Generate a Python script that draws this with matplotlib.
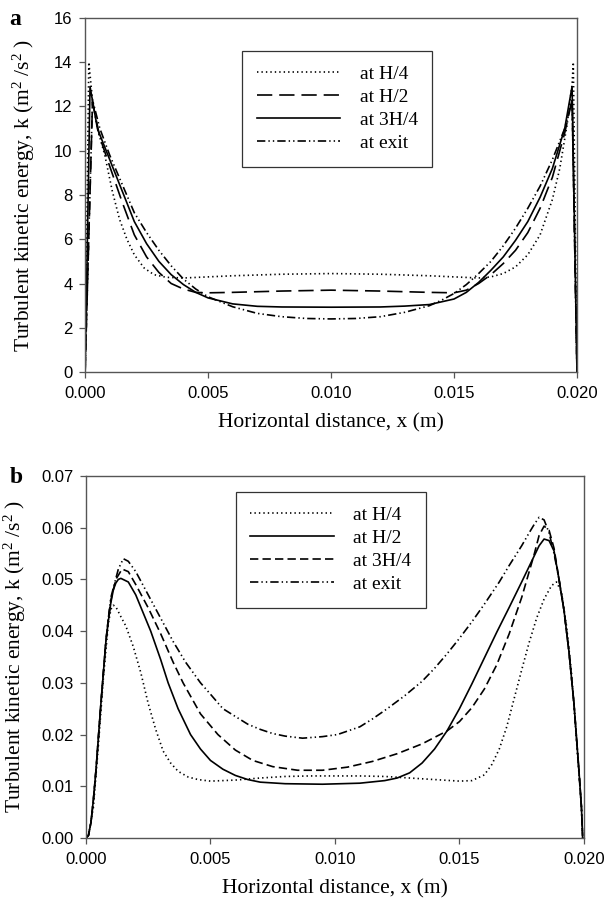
import matplotlib
matplotlib.use("Agg")
import matplotlib.pyplot as plt

plt.rcParams['lines.scale_dashes'] = False
plt.rcParams['mathtext.fontset'] = 'custom'
plt.rcParams['mathtext.rm'] = 'Liberation Serif'
plt.rcParams['mathtext.it'] = 'Liberation Serif:italic'

# ---- panel a data: turbulent kinetic energy (m2/s2) ----
a_x_h4 = [0, 0.00015, 0.0003, 0.0005, 0.0008, 0.0011, 0.0014, 0.0017, 0.002, 0.0024, 0.0028,
          0.0033, 0.004, 0.005, 0.006, 0.008, 0.010, 0.012, 0.014, 0.015, 0.016, 0.0165, 0.017,
          0.0175, 0.018, 0.0185, 0.019, 0.0193, 0.0196, 0.0198, 0.01985, 0.0200]
a_k_h4 = [0, 14.0, 12.3, 11.0, 9.8, 8.2, 6.9, 6.0, 5.3, 4.7, 4.4,
          4.28, 4.25, 4.3, 4.35, 4.42, 4.45, 4.42, 4.35, 4.3, 4.25, 4.3, 4.45,
          4.75, 5.3, 6.2, 7.8, 9.2, 11.2, 13.0, 14.0, 0]

a_x_h2 = [0, 0.0003, 0.0006, 0.001, 0.0015, 0.002, 0.0025, 0.003, 0.0035, 0.004, 0.0045, 0.005,
          0.006, 0.008, 0.010, 0.012, 0.014, 0.015, 0.0155, 0.016, 0.0165, 0.017, 0.0175, 0.018,
          0.0185, 0.019, 0.0195, 0.0198, 0.0200]
a_k_h2 = [0, 12.2, 10.6, 9.3, 7.7, 6.2, 5.2, 4.5, 4.0, 3.75, 3.6, 3.58,
          3.6, 3.66, 3.7, 3.66, 3.6, 3.58, 3.7, 4.0, 4.4, 4.9, 5.5, 6.3,
          7.4, 8.8, 10.8, 12.3, 0]

a_x_3h4 = [0, 0.0002, 0.0005, 0.001, 0.0015, 0.002, 0.0025, 0.003, 0.0035, 0.004, 0.0045, 0.005,
           0.006, 0.007, 0.008, 0.010, 0.012, 0.013, 0.014, 0.015, 0.0155, 0.016, 0.0165, 0.017,
           0.0175, 0.018, 0.0185, 0.019, 0.0195, 0.0198, 0.0200]
a_k_3h4 = [0, 12.9, 11.0, 9.6, 8.2, 6.8, 5.8, 5.0, 4.4, 3.95, 3.6, 3.35,
           3.08, 2.97, 2.94, 2.93, 2.94, 2.98, 3.05, 3.3, 3.6, 4.05, 4.6, 5.2,
           5.95, 6.8, 7.9, 9.2, 11.0, 12.9, 0]

a_x_exit = [0, 0.0003, 0.0006, 0.001, 0.0015, 0.002, 0.0025, 0.003, 0.0035, 0.004, 0.0045, 0.005,
            0.006, 0.007, 0.008, 0.009, 0.010, 0.011, 0.012, 0.013, 0.014, 0.0145, 0.015, 0.0155,
            0.016, 0.0165, 0.017, 0.0175, 0.018, 0.0185, 0.019, 0.0195, 0.0198, 0.0200]
a_k_exit = [0, 12.3, 11.0, 9.8, 8.5, 7.2, 6.3, 5.5, 4.8, 4.2, 3.75, 3.4,
            2.95, 2.65, 2.5, 2.42, 2.4, 2.42, 2.5, 2.7, 3.0, 3.25, 3.55, 3.95,
            4.45, 5.0, 5.7, 6.5, 7.4, 8.4, 9.6, 11.0, 12.3, 0]

# ---- panel b data ----
b_x_h4 = [0, 0.0001, 0.0003, 0.0005, 0.0007, 0.0009, 0.001, 0.0011, 0.0012, 0.0014, 0.0016,
          0.0019, 0.0022, 0.0025, 0.0028, 0.0031, 0.0034, 0.0037, 0.0041, 0.0045, 0.005, 0.006,
          0.007, 0.008, 0.009, 0.010, 0.011, 0.012, 0.013, 0.014, 0.015, 0.0155, 0.016, 0.0163,
          0.0166, 0.0169, 0.0172, 0.0175, 0.0178, 0.0181, 0.0184, 0.0187, 0.0189, 0.0191,
          0.0193, 0.0195, 0.0197, 0.0199, 0.01995]
b_k_h4 = [0, 0.0005, 0.006, 0.018, 0.031, 0.0415, 0.0442, 0.045, 0.0447, 0.0428, 0.041,
          0.037, 0.032, 0.026, 0.021, 0.0168, 0.0145, 0.0129, 0.0118, 0.0113, 0.011, 0.0112,
          0.0116, 0.0119, 0.012, 0.012, 0.012, 0.0119, 0.0116, 0.0113, 0.011, 0.0111, 0.0122,
          0.0142, 0.0172, 0.0215, 0.027, 0.0325, 0.0378, 0.0425, 0.0462, 0.0488, 0.0495, 0.0475,
          0.041, 0.032, 0.019, 0.006, 0]

b_x_h2 = [0, 0.0001, 0.0002, 0.0003, 0.0004, 0.0005, 0.0006, 0.0007, 0.0008, 0.0009, 0.001,
          0.0011, 0.0012, 0.0013, 0.0014, 0.0017, 0.002, 0.0023, 0.0026, 0.003, 0.0033, 0.0037,
          0.0042, 0.0046, 0.005, 0.0055, 0.006, 0.0065, 0.007, 0.008, 0.0095, 0.011, 0.012,
          0.0125, 0.013, 0.0135, 0.014, 0.0145, 0.015, 0.0155, 0.016, 0.0165, 0.017, 0.0175,
          0.018, 0.0182, 0.0184, 0.0186, 0.0188, 0.019, 0.0192, 0.0194, 0.0196, 0.0198,
          0.0199, 0.01995]
b_k_h2 = [0, 0.0005, 0.003, 0.0075, 0.013, 0.0195, 0.026, 0.032, 0.038, 0.042, 0.0455,
          0.048, 0.0493, 0.050, 0.0502, 0.0495, 0.047, 0.0435, 0.040, 0.0345, 0.030, 0.025,
          0.020, 0.0172, 0.015, 0.0133, 0.0121, 0.0113, 0.0108, 0.0105, 0.0104, 0.0106, 0.0111,
          0.0116, 0.0126, 0.0145, 0.0172, 0.0207, 0.025, 0.0298, 0.0348, 0.0398, 0.0446, 0.0495,
          0.0545, 0.0565, 0.0578, 0.0575, 0.0555, 0.050, 0.044, 0.036, 0.026, 0.013,
          0.006, 0]

b_x_3h4 = [0, 0.0001, 0.0002, 0.0003, 0.0004, 0.0005, 0.0006, 0.0007, 0.0008, 0.0009, 0.001,
           0.0012, 0.00145, 0.0017, 0.002, 0.0025, 0.003, 0.0035, 0.0039, 0.0046, 0.0053, 0.006,
           0.0067, 0.0075, 0.0085, 0.0095, 0.0105, 0.0115, 0.0125, 0.0135, 0.0145, 0.015,
           0.0155, 0.016, 0.0165, 0.017, 0.0175, 0.018, 0.0182, 0.0184, 0.0186, 0.0188, 0.019,
           0.0192, 0.0194, 0.0196, 0.0198, 0.0199, 0.01995]
b_k_3h4 = [0, 0.0005, 0.003, 0.0075, 0.013, 0.0195, 0.026, 0.032, 0.038, 0.0425, 0.046,
           0.050, 0.052, 0.0515, 0.049, 0.0445, 0.0395, 0.034, 0.030, 0.024, 0.020, 0.017,
           0.015, 0.0138, 0.0131, 0.0131, 0.0137, 0.0148, 0.0163, 0.0182, 0.0207, 0.0225,
           0.0252, 0.0288, 0.0335, 0.0395, 0.0465, 0.0548, 0.0585, 0.0603, 0.0595, 0.056, 0.050,
           0.044, 0.036, 0.026, 0.013, 0.006, 0]

b_x_exit = [0, 0.0001, 0.0002, 0.0003, 0.0004, 0.0005, 0.0006, 0.0007, 0.0008, 0.0009, 0.001,
            0.0013, 0.0015, 0.0017, 0.002, 0.0025, 0.003, 0.0035, 0.004, 0.0046, 0.005, 0.0055,
            0.006, 0.0065, 0.007, 0.0075, 0.008, 0.0087, 0.0095, 0.0101, 0.011, 0.0115, 0.0121,
            0.0128, 0.0135, 0.014, 0.0145, 0.015, 0.0155, 0.016, 0.0166, 0.017, 0.0175, 0.0178,
            0.018, 0.0182, 0.0184, 0.0186, 0.0188, 0.019, 0.0192, 0.0194, 0.0196, 0.0198,
            0.0199, 0.01995]
b_k_exit = [0, 0.0005, 0.003, 0.0075, 0.013, 0.0195, 0.026, 0.032, 0.038, 0.0425, 0.0465,
            0.052, 0.054, 0.0535, 0.0515, 0.047, 0.0425, 0.038, 0.034, 0.030, 0.0278, 0.025,
            0.0235, 0.022, 0.021, 0.0202, 0.0197, 0.0193, 0.0196, 0.020, 0.0215, 0.023, 0.025,
            0.0275, 0.0303, 0.0328, 0.0356, 0.0386, 0.0418, 0.0452, 0.0495, 0.0527, 0.0565, 0.059,
            0.0606, 0.062, 0.0615, 0.059, 0.055, 0.050, 0.044, 0.036, 0.026, 0.013,
            0.006, 0]

legend_labels = ['at H/4', 'at H/2', 'at 3H/4', 'at exit']
x_ticks = [0.0, 0.005, 0.010, 0.015, 0.020]
x_ticklabels = ['0.000', '0.005', '0.010', '0.015', '0.020']

dotted = (0, (1.0, 2.2))
long_dash = (0, (11, 5))
short_dash = (0, (6, 3))
dash_dot_dot = (0, (6, 2.2, 1, 2.2, 1, 2.2))

serif = 'Liberation Serif'
sans = 'Liberation Sans'
spine_col = '#555555'

fig = plt.figure(figsize=(6.08, 8.98), dpi=100)
ax_a = fig.add_axes([0.140, 0.5857, 0.809, 0.3943])
ax_b = fig.add_axes([0.1414, 0.0668, 0.819, 0.4032])


def style_axes(ax, ylim, yticks, yfmt, ylab_x, xlab_y):
    ax.set_xlim(0, 0.020)
    ax.set_ylim(*ylim)
    ax.set_xticks(x_ticks)
    ax.set_xticklabels(x_ticklabels, fontfamily=sans, fontsize=12)
    ax.set_yticks(yticks)
    ax.set_yticklabels([yfmt.format(v) for v in yticks], fontfamily=sans, fontsize=12)
    ax.tick_params(axis='x', direction='out', length=4, width=0.9, color=spine_col, pad=6)
    ax.tick_params(axis='y', direction='out', length=4, width=0.9, color=spine_col, pad=5)
    for s in ax.spines.values():
        s.set_color(spine_col)
        s.set_linewidth(1.0)
    xl = ax.set_xlabel('Horizontal distance, x (m)', fontfamily=serif, fontsize=15.5)
    yl = ax.set_ylabel(r'Turbulent kinetic energy, k (m$^2$ /s$^2$ )', fontfamily=serif,
                       fontsize=15.5)
    xl.set_va('center')
    yl.set_va('center')
    ax.xaxis.set_label_coords(0.5, xlab_y)
    ax.yaxis.set_label_coords(ylab_x, 0.5)


lw = 1.2
ax_a.plot(a_x_h4, a_k_h4, color='black', lw=lw, linestyle=dotted, label=legend_labels[0])
ax_a.plot(a_x_h2, a_k_h2, color='black', lw=lw, linestyle=long_dash, label=legend_labels[1])
ax_a.plot(a_x_3h4, a_k_3h4, color='black', lw=lw, linestyle='-', label=legend_labels[2])
ax_a.plot(a_x_exit, a_k_exit, color='black', lw=lw, linestyle=dash_dot_dot, label=legend_labels[3])
style_axes(ax_a, (0, 16), [0, 2, 4, 6, 8, 10, 12, 14, 16], '{:g}', -0.124, -0.144)

ax_b.plot(b_x_h4, b_k_h4, color='black', lw=lw, linestyle=dotted, label=legend_labels[0])
ax_b.plot(b_x_h2, b_k_h2, color='black', lw=lw, linestyle='-', label=legend_labels[1])
ax_b.plot(b_x_3h4, b_k_3h4, color='black', lw=lw, linestyle=short_dash, label=legend_labels[2])
ax_b.plot(b_x_exit, b_k_exit, color='black', lw=lw, linestyle=dash_dot_dot, label=legend_labels[3])
style_axes(ax_b, (0, 0.07), [0, 0.01, 0.02, 0.03, 0.04, 0.05, 0.06, 0.07], '{:.2f}',
           -0.1426, -0.141)

for ax, anchor in [(ax_a, (0.319, 0.907)), (ax_b, (0.301, 0.956))]:
    leg = ax.legend(loc='upper left', bbox_to_anchor=anchor, borderaxespad=0,
                    prop={'family': serif, 'size': 14}, frameon=True, fancybox=False,
                    edgecolor='black', handlelength=4.3, handletextpad=1.0,
                    labelspacing=0.28, borderpad=0.75)
    leg.get_frame().set_linewidth(0.9)

fig.text(0.016, 0.990, 'a', fontfamily=serif, fontweight='bold', fontsize=17, va='top')
fig.text(0.016, 0.480, 'b', fontfamily=serif, fontweight='bold', fontsize=17, va='top')

fig.savefig('out.png', dpi=100)
